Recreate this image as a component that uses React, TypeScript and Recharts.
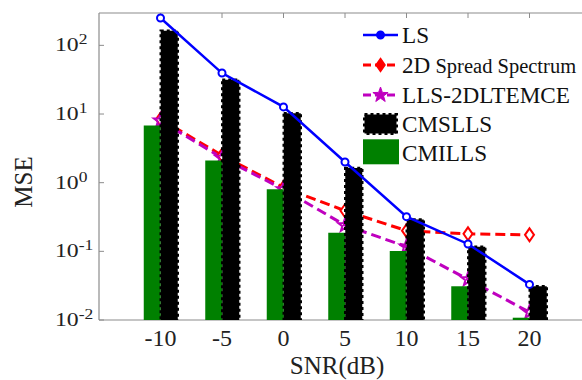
import React from "react";
import {
  ComposedChart,
  Bar,
  Line,
  XAxis,
  YAxis,
  Legend,
  ReferenceLine
} from "recharts";

// SNR (dB) categories
const snr = [-10, -5, 0, 5, 10, 15, 20];

// MSE per method
const lsMse = [250, 39.5, 12.7, 2.0, 0.32, 0.128, 0.033];
const spreadMse = [8.4, 2.5, 0.85, 0.39, 0.2, 0.18, 0.174];
const llsMse = [8.0, 2.3, 0.8, 0.24, 0.117, 0.039, 0.013];
const cmsllsMse = [163, 31.6, 10.3, 1.64, 0.29, 0.117, 0.031];
const cmillsMse = [6.8, 2.1, 0.8, 0.187, 0.101, 0.031, 0.0108];

const yTicks = [0.01, 0.1, 1, 10, 100];
const yMin = 0.01;
const yMax = 296;

const seriesNames = ["LS", "2D Spread Spectrum", "LLS-2DLTEMCE", "CMSLLS", "CMILLS"];

const data = snr.map((s, i) => ({
  snr: s,
  ls: lsMse[i],
  spread: spreadMse[i],
  lls: llsMse[i],
  cmslls: cmsllsMse[i],
  cmills: cmillsMse[i]
}));

const FONT = "'Liberation Serif', 'Times New Roman', serif";
const AXIS = "#8c8c8c";
const BLUE = "#0000ff";
const RED = "#ff0000";
const MAGENTA = "#bf00bf";
const GREEN = "#008000";
const PLOT_TOP = 13;
const W = 600;
const H = 380;
const X_PAD = { left: 30.75, right: 30.75 };

function XTick({ x, y, payload }: any) {
  return (
    <g>
      <line x1={x} x2={x} y1={y} y2={y - 5} stroke={AXIS} />
      <line x1={x} x2={x} y1={PLOT_TOP} y2={PLOT_TOP + 5} stroke={AXIS} />
      <text x={x} y={y + 26} textAnchor="middle" fill="#222" style={{ fontSize: 24, fontFamily: FONT }}>
        {payload.value}
      </text>
    </g>
  );
}

function YTick({ x, y, payload }: any) {
  const exp = Math.round(Math.log10(payload.value));
  return (
    <g>
      <line x1={x} x2={x + 5} y1={y} y2={y} stroke={AXIS} />
      <text
        transform={`translate(${x - 44}, ${y + 6}) scale(1.25, 1)`}
        fill="#222"
        style={{ fontSize: 19, fontFamily: FONT }}
      >
        <tspan>10</tspan>
        <tspan dy={-7} style={{ fontSize: 14 }}>{exp}</tspan>
      </text>
    </g>
  );
}

function diamond(cx: number, cy: number) {
  return `M${cx},${cy - 6.5} L${cx + 4.5},${cy} L${cx},${cy + 6.5} L${cx - 4.5},${cy} Z`;
}

function star(cx: number, cy: number, r: number) {
  const pts: string[] = [];
  for (let k = 0; k < 10; k++) {
    const rad = k % 2 === 0 ? r : r * 0.4;
    const a = -Math.PI / 2 + (k * Math.PI) / 5;
    pts.push(`${cx + rad * Math.cos(a)},${cy + rad * Math.sin(a)}`);
  }
  return `M${pts.join(" L")} Z`;
}

const CircleDot = ({ cx, cy, index }: any) => (
  <circle key={`c${index}`} cx={cx} cy={cy} r={3.5} fill="#fff" stroke={BLUE} strokeWidth={2} />
);
const DiamondDot = ({ cx, cy, index }: any) => (
  <path key={`d${index}`} d={diamond(cx, cy)} fill="#fff" stroke={RED} strokeWidth={2} />
);
const StarDot = ({ cx, cy, index }: any) => (
  <path key={`s${index}`} d={star(cx, cy, 7)} fill="none" stroke={MAGENTA} strokeWidth={2} />
);

function LegendBox() {
  const tx = 44;
  const text = { fill: "#111", style: { fontSize: 23.2, fontFamily: FONT } };
  return (
    <svg width={224} height={152}>
      <line x1={5} x2={40} y1={17} y2={17} stroke={BLUE} strokeWidth={2.5} />
      <circle cx={22.5} cy={17} r={3.5} fill={BLUE} stroke={BLUE} strokeWidth={2} />
      <text x={tx} y={24.7} {...text}>{seriesNames[0]}</text>

      <line x1={5} x2={40} y1={47} y2={47} stroke={RED} strokeWidth={3} strokeDasharray="8 4" />
      <path d={diamond(22.5, 47)} fill={RED} stroke={RED} strokeWidth={1.5} />
      <text x={tx} y={54.7} {...text}>
        <tspan>2D</tspan>
        <tspan style={{ fontSize: 20.5 }}> Spread Spectrum</tspan>
      </text>

      <line x1={5} x2={40} y1={77} y2={77} stroke={MAGENTA} strokeWidth={3} strokeDasharray="8 4" />
      <path d={star(22.5, 77, 8)} fill={MAGENTA} stroke={MAGENTA} strokeWidth={1} />
      <text x={tx} y={84.7} {...text}>{seriesNames[2]}</text>

      <rect x={6.5} y={96.5} width={32} height={19} fill="#000" stroke="#000" strokeWidth={3} strokeDasharray="3 3" />
      <text x={tx} y={114.3} {...text}>{seriesNames[3]}</text>

      <rect x={5} y={121.3} width={36} height={25} fill={GREEN} />
      <text x={tx} y={143} {...text}>{seriesNames[4]}</text>
    </svg>
  );
}

const layer: React.CSSProperties = { position: "absolute", left: 0, top: 0 };

export default function App() {
  return (
    <div style={{ position: "absolute", left: 0, top: 0, width: 582, height: 380, overflow: "hidden", background: "#fff" }}>
      {/* bottom layer: axes and the dashed lines that sit behind the bars */}
      <div style={layer}>
        <ComposedChart width={W} height={H} data={data} margin={{ top: PLOT_TOP, right: 9, bottom: 0, left: 0 }}>
          <XAxis
            dataKey="snr"
            type="category"
            scale="band"
            padding={X_PAD}
            height={60}
            tickSize={0}
            tickMargin={0}
            tickLine={false}
            axisLine={{ stroke: AXIS, strokeWidth: 1.2 }}
            tick={<XTick />}
            interval={0}
            label={{
              content: () => (
                <text x={337} y={374} textAnchor="middle" fill="#222" style={{ fontSize: 25, fontFamily: FONT }}>
                  SNR(dB)
                </text>
              )
            }}
          />
          <YAxis
            scale="log"
            domain={[yMin, yMax]}
            allowDataOverflow
            ticks={yTicks}
            width={99}
            tickSize={0}
            tickMargin={0}
            tickLine={false}
            axisLine={{ stroke: AXIS, strokeWidth: 1.2 }}
            tick={<YTick />}
            interval={0}
            label={{
              content: () => (
                <text
                  x={32}
                  y={182}
                  transform="rotate(-90, 32, 182)"
                  textAnchor="middle"
                  fill="#222"
                  style={{ fontSize: 25, fontFamily: FONT }}
                >
                  MSE
                </text>
              )
            }}
          />
          <ReferenceLine y={yMax} stroke={AXIS} strokeWidth={1.2} />
          <Line
            dataKey="spread"
            name={seriesNames[1]}
            stroke={RED}
            strokeWidth={3}
            strokeDasharray="10 5"
            dot={<DiamondDot />}
            isAnimationActive={false}
          />
          <Line
            dataKey="lls"
            name={seriesNames[2]}
            stroke={MAGENTA}
            strokeWidth={3}
            strokeDasharray="10 5"
            dot={<StarDot />}
            isAnimationActive={false}
          />
        </ComposedChart>
      </div>

      {/* top layer: bars, the LS line and the legend */}
      <div style={layer}>
        <ComposedChart
          width={W}
          height={H}
          data={data}
          margin={{ top: PLOT_TOP, right: 9, bottom: 60, left: 99 }}
          barGap={0}
        >
          <XAxis dataKey="snr" type="category" scale="band" padding={X_PAD} hide />
          <YAxis scale="log" domain={[yMin, yMax]} allowDataOverflow hide />
          <Bar dataKey="cmills" name={seriesNames[4]} fill={GREEN} barSize={17} isAnimationActive={false} />
          <Bar
            dataKey="cmslls"
            name={seriesNames[3]}
            fill="#000"
            stroke="#000"
            strokeWidth={2.5}
            strokeDasharray="3 3"
            barSize={17}
            isAnimationActive={false}
          />
          <Line
            dataKey="ls"
            name={seriesNames[0]}
            stroke={BLUE}
            strokeWidth={2.5}
            dot={<CircleDot />}
            isAnimationActive={false}
          />
          <Legend
            layout="vertical"
            align="center"
            verticalAlign="middle"
            wrapperStyle={{ position: "absolute", left: 358, top: 18, width: 224, height: 152 }}
            content={() => <LegendBox />}
          />
        </ComposedChart>
      </div>
    </div>
  );
}
